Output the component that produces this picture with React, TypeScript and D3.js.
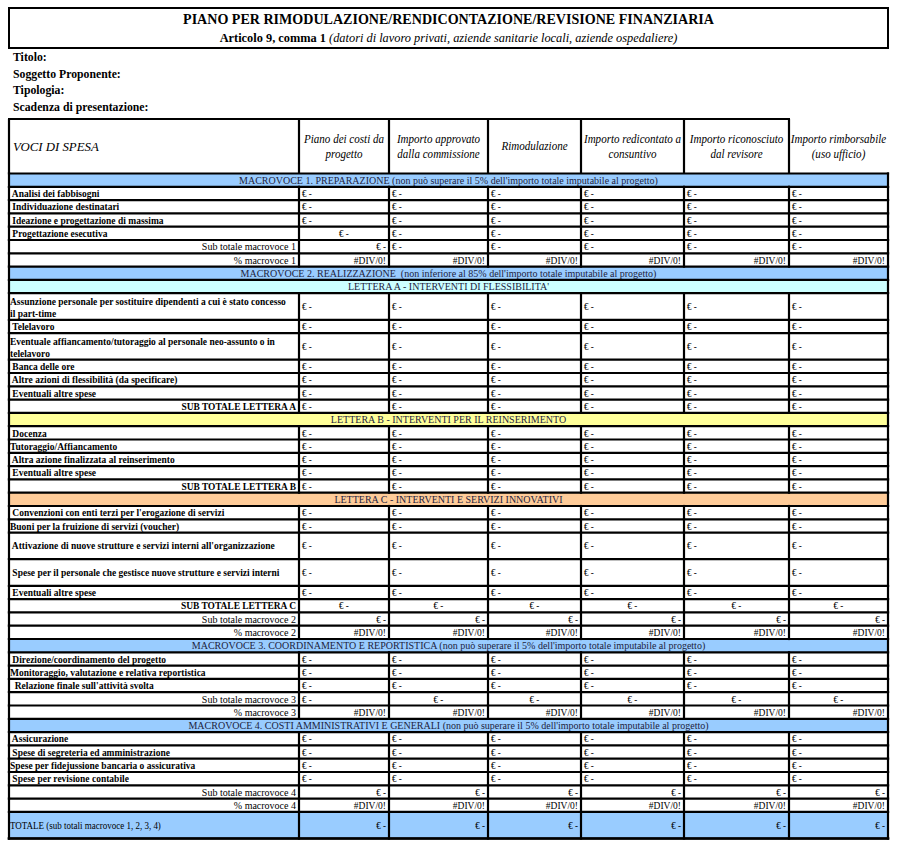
import React from "react";
import * as d3 from "d3";

const W = 897;
const H = 848;
const FONT = '"Liberation Serif", "Times New Roman", serif';

// ---- testi / dati del modulo ----
const titleText = "PIANO PER RIMODULAZIONE/RENDICONTAZIONE/REVISIONE FINANZIARIA";
const subtitleBold = "Articolo 9, comma 1";
const subtitleItalic = " (datori di lavoro privati, aziende sanitarie locali, aziende ospedaliere)";
const infoLabels = ["Titolo:", "Soggetto Proponente:", "Tipologia:", "Scadenza di presentazione:"];
const firstHeader = "VOCI DI SPESA";
const columnHeaders = [
  ["Piano dei costi da", "progetto"],
  ["Importo approvato", "dalla commissione"],
  ["Rimodulazione"],
  ["Importo redicontato a", "consuntivo"],
  ["Importo riconosciuto", "dal revisore"],
  ["Importo rimborsabile", "(uso ufficio)"],
];

const macro1Title = "MACROVOCE 1. PREPARAZIONE (non può superare il 5% dell'importo totale imputabile al progetto)";
const macro1Items = [
  " Analisi dei fabbisogni",
  " Individuazione destinatari",
  " Ideazione e progettazione di massima",
  " Progettazione esecutiva",
];
const macro2Title = "MACROVOCE 2. REALIZZAZIONE  (non inferiore al 85% dell'importo totale imputabile al progetto)";
const letteraATitle = "LETTERA A - INTERVENTI DI FLESSIBILITA'";
const letteraAItems = [
  "Assunzione personale per sostituire dipendenti a cui è stato concesso\nil part-time",
  " Telelavoro",
  "Eventuale affiancamento/tutoraggio al personale neo-assunto o in\ntelelavoro",
  " Banca delle ore",
  " Altre azioni di flessibilità (da specificare)",
  " Eventuali altre spese",
];
const letteraBTitle = "LETTERA B - INTERVENTI PER IL REINSERIMENTO";
const letteraBItems = [
  " Docenza",
  "Tutoraggio/Affiancamento",
  " Altra azione finalizzata al reinserimento",
  " Eventuali altre spese",
];
const letteraCTitle = "LETTERA C - INTERVENTI E SERVIZI INNOVATIVI";
const letteraCItems = [
  " Convenzioni con enti terzi per l'erogazione di servizi",
  "Buoni per la fruizione di servizi (voucher)",
  " Attivazione di nuove strutture e servizi interni all'organizzazione",
  " Spese per il personale che gestisce nuove strutture e servizi interni",
  " Eventuali altre spese",
];
const macro3Title = "MACROVOCE 3. COORDINAMENTO E REPORTISTICA (non può superare il 5% dell'importo totale imputabile al progetto)";
const macro3Items = [
  " Direzione/coordinamento del progetto",
  "Monitoraggio, valutazione e relativa reportistica",
  "  Relazione finale sull'attività svolta",
];
const macro4Title = "MACROVOCE 4. COSTI AMMINISTRATIVI E GENERALI (non può superare il 5% dell'importo totale imputabile al progetto)";
const macro4Items = [
  " Assicurazione",
  " Spese di segreteria ed amministrazione",
  "Spese per fidejussione bancaria o assicurativa",
  " Spese per revisione contabile",
];
const totalLabel = "TOTALE (sub totali macrovoce 1, 2, 3, 4)";
const amount = "€ -";
const divError = "#DIV/0!";

// righe alte (due righe di foglio)
const tallRows = [
  letteraAItems[0],
  letteraAItems[2],
  letteraCItems[2],
  letteraCItems[3],
  totalLabel,
];

const BLUE = "#99CCFF";
const CYAN = "#CCFFFF";
const YELLOW = "#FFFF99";
const ORANGE = "#FFCC99";

type Row = {
  kind: "band" | "item" | "sub" | "subL" | "pct" | "total";
  label: string;
  units: number;
  fill?: string;
  align?: string; // L/C/R per colonna
  value?: string;
};

function band(label: string, fill: string): Row {
  return { kind: "band", label, units: 1, fill };
}
function items(list: string[]): Row[] {
  return list.map((label) => ({
    kind: "item",
    label,
    units: tallRows.includes(label) ? 2 : 1,
    align: label === " Progettazione esecutiva" ? "CLLLLL" : "LLLLLL",
    value: amount,
  }));
}
function sub(label: string, align: string, kind: Row["kind"] = "sub"): Row {
  return { kind, label, units: 1, align, value: amount };
}
function pct(n: number): Row {
  return { kind: "pct", label: "% macrovoce " + n, units: 1, align: "RRRRRR", value: divError };
}

function buildRows(): Row[] {
  return [
    band(macro1Title, BLUE),
    ...items(macro1Items),
    sub("Sub totale macrovoce 1", "RLLLLL"),
    pct(1),
    band(macro2Title, BLUE),
    band(letteraATitle, CYAN),
    ...items(letteraAItems),
    sub("SUB TOTALE LETTERA A", "LLLLLL", "subL"),
    band(letteraBTitle, YELLOW),
    ...items(letteraBItems),
    sub("SUB TOTALE LETTERA B", "LLLLLL", "subL"),
    band(letteraCTitle, ORANGE),
    ...items(letteraCItems),
    sub("SUB TOTALE LETTERA C", "CCCCCC", "subL"),
    sub("Sub totale macrovoce 2", "RRRRRR"),
    pct(2),
    band(macro3Title, BLUE),
    ...items(macro3Items),
    sub("Sub totale macrovoce 3", "LCCCCC"),
    pct(3),
    band(macro4Title, BLUE),
    ...items(macro4Items),
    sub("Sub totale macrovoce 4", "RRRRRR"),
    pct(4),
    { kind: "total", label: totalLabel, units: 2, fill: BLUE, align: "RRRRRR", value: amount },
  ];
}

type TxtProps = {
  x: number;
  y: number;
  size: number;
  anchor?: "start" | "middle" | "end";
  bold?: boolean;
  italic?: boolean;
  sx?: number;
  fill?: string;
  children: React.ReactNode;
};

function Txt({ x, y, size, anchor = "start", bold, italic, sx = 1, fill = "#000", children }: TxtProps) {
  return (
    <text
      transform={`translate(${x},${y}) scale(${sx},1)`}
      textAnchor={anchor}
      fontSize={size}
      fontWeight={bold ? "bold" : "normal"}
      fontStyle={italic ? "italic" : "normal"}
      fill={fill}
      style={{ whiteSpace: "pre" }}
    >
      {children}
    </text>
  );
}

export default function App() {
  const left = 9;
  const right = 888;
  const colWidths = [290, 90, 99, 93, 103, 105, 99];
  const edges = [left, ...d3.cumsum(colWidths).map((v) => left + v)];

  const rows = buildRows();
  const totalUnits = d3.sum(rows, (r) => r.units);
  const y = d3.scaleLinear().domain([0, totalUnits]).range([173.5, 838.5]);

  let acc = 0;
  const placed = rows.map((r) => {
    const y0 = y(acc);
    acc += r.units;
    return { ...r, y0, y1: y(acc) };
  });

  const headTop = 119;
  const headBottom = 173.5;
  const lw = 2.2;

  return (
    <svg
      width={W}
      height={H}
      style={{ position: "absolute", left: 0, top: 0, background: "#fff" }}
      fontFamily={FONT}
    >
      <rect width={W} height={H} fill="#fff" />

      {/* titolo */}
      <rect x={left} y={8} width={right - left} height={40} fill="none" stroke="#000" strokeWidth={2} />
      <Txt x={(left + right) / 2} y={23.5} size={14.5} anchor="middle" bold sx={0.97}>
        {titleText}
      </Txt>
      <text
        transform={`translate(${(left + right) / 2},42) scale(1.03,1)`}
        textAnchor="middle"
        fontSize={12}
      >
        <tspan fontWeight="bold">{subtitleBold}</tspan>
        <tspan fontStyle="italic">{subtitleItalic}</tspan>
      </text>

      {infoLabels.map((t, i) => (
        <Txt key={t} x={13} y={61 + i * 16.5} size={12.5} bold sx={0.94}>
          {t}
        </Txt>
      ))}

      {/* intestazione tabella */}
      <Txt x={13} y={150.5} size={12} italic sx={1.07}>
        {firstHeader}
      </Txt>
      {columnHeaders.map((lines, i) => {
        const cx = (edges[i + 1] + edges[i + 2]) / 2;
        const mid = (headTop + headBottom) / 2;
        const y0 = mid + 4 - ((lines.length - 1) * 15) / 2;
        return lines.map((l, j) => (
          <Txt key={l} x={cx} y={y0 + j * 15} size={11.5} italic anchor="middle" sx={0.96}>
            {l}
          </Txt>
        ));
      })}
      <g stroke="#000" strokeWidth={lw}>
        <line x1={left - 1} x2={edges[6] + 1} y1={headTop} y2={headTop} />
        {edges.slice(0, 7).map((ex) => (
          <line key={ex} x1={ex} x2={ex} y1={headTop} y2={headBottom} />
        ))}
      </g>

      {/* righe */}
      {placed.map((r, i) => {
        const h = r.y1 - r.y0;
        const mid = (r.y0 + r.y1) / 2;
        const base = r.units > 1 ? mid + 3.5 : r.y1 - 3;
        if (r.kind === "band") {
          return (
            <g key={i}>
              <rect x={left} y={r.y0} width={right - left} height={h} fill={r.fill} />
              <Txt x={(left + right) / 2} y={base} size={10} anchor="middle" sx={1.0} fill="#1d2340">
                {r.label}
              </Txt>
            </g>
          );
        }
        const lines = r.label.split("\n");
        let labelNode: React.ReactNode;
        if (r.kind === "item" || r.kind === "total") {
          const ly = lines.length > 1 ? mid - 1.5 : base;
          labelNode = lines.map((l, j) => (
            <Txt key={j} x={left + 1} y={ly + j * 12} size={10} bold={r.kind === "item"} sx={r.kind === "item" ? 0.95 : 0.9}>
              {l}
            </Txt>
          ));
        } else if (r.kind === "subL") {
          labelNode = (
            <Txt x={edges[1] - 3} y={base} size={10.5} bold anchor="end" sx={0.9}>
              {r.label}
            </Txt>
          );
        } else {
          labelNode = (
            <Txt x={edges[1] - 3} y={base} size={10} anchor="end" sx={1.0}>
              {r.label}
            </Txt>
          );
        }
        return (
          <g key={i}>
            {r.fill && <rect x={left} y={r.y0} width={right - left} height={h} fill={r.fill} />}
            {labelNode}
            {(r.align || "").split("").map((a, c) => {
              const x0 = edges[c + 1];
              const x1 = edges[c + 2];
              const x = a === "L" ? x0 + 3 : a === "C" ? (x0 + x1) / 2 : x1 - 3;
              const anchor = a === "L" ? "start" : a === "C" ? "middle" : "end";
              return (
                <Txt key={c} x={x} y={base} size={r.kind === "pct" ? 10 : 9.5} anchor={anchor} sx={0.95}>
                  {r.value}
                </Txt>
              );
            })}
          </g>
        );
      })}

      {/* griglia */}
      <g stroke="#000" strokeWidth={lw} strokeLinecap="square">
        <line x1={left} x2={right} y1={y(0)} y2={y(0)} />
        {placed.map((r, i) => (
          <line key={"h" + i} x1={left} x2={right} y1={r.y1} y2={r.y1} />
        ))}
        {placed.map((r, i) =>
          (r.kind === "band" ? [left, right] : edges).map((ex) => (
            <line key={"v" + i + "-" + ex} x1={ex} x2={ex} y1={r.y0} y2={r.y1} />
          ))
        )}
        <line x1={left} x2={right} y1={y(totalUnits)} y2={y(totalUnits)} strokeWidth={2.6} />
      </g>
    </svg>
  );
}
